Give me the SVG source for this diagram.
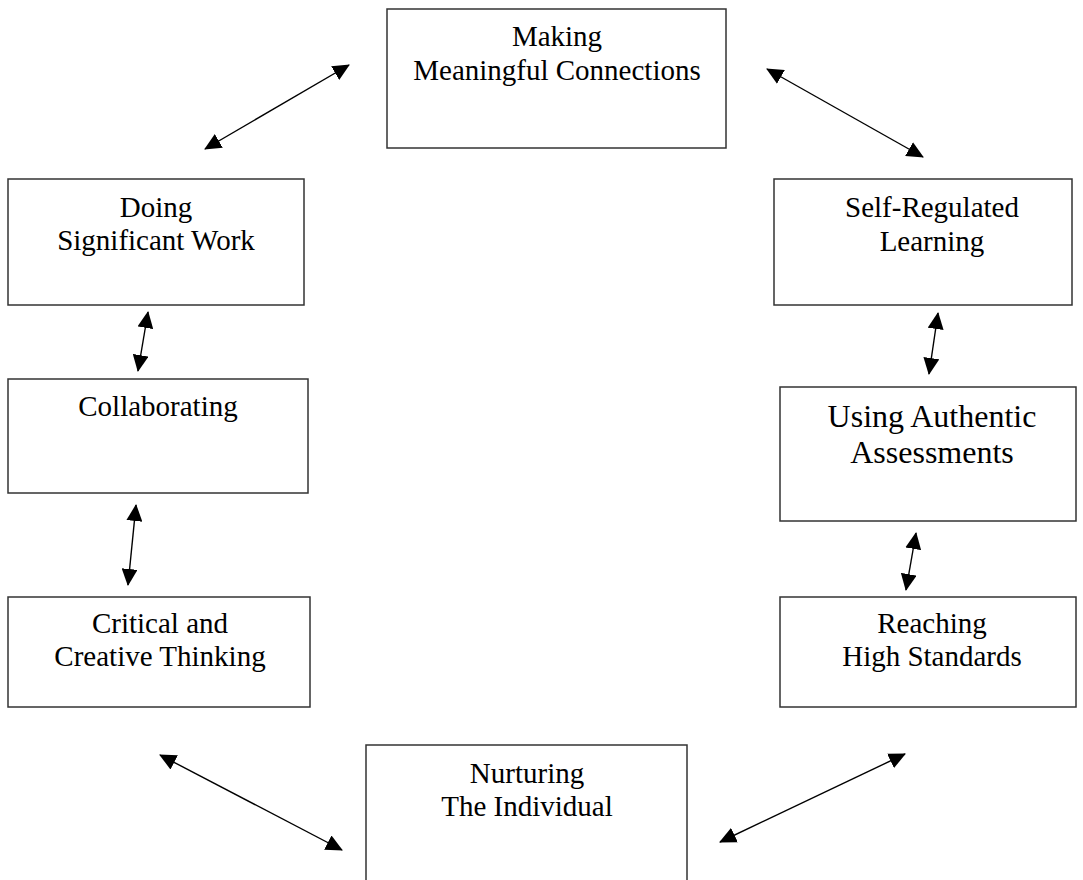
<svg xmlns="http://www.w3.org/2000/svg" width="1083" height="880" viewBox="0 0 1083 880">
<style>
.box{fill:#fff;stroke:#333;stroke-width:1.5}
.t{font-family:"Liberation Serif","Times New Roman","DejaVu Serif",serif;font-size:29px;fill:#000;text-anchor:middle}
.tb{font-size:32px}
.c{stroke:#000;stroke-width:1.4;fill:none;marker-start:url(#ah);marker-end:url(#ah)}
</style>
<defs>
<marker id="ah" viewBox="0 0 17 16" refX="16" refY="8" markerUnits="userSpaceOnUse" markerWidth="17" markerHeight="16" orient="auto-start-reverse">
<path d="M0,0 L17,8 L0,16 z" fill="#000"/>
</marker>
</defs>
<rect width="1083" height="880" fill="#fff"/>
<g id="n-making"><rect class="box" x="387" y="9" width="339" height="139"/><text class="t" x="557" y="46">Making</text><text class="t" x="557" y="80">Meaningful Connections</text></g>
<g id="n-doing"><rect class="box" x="8" y="179" width="296" height="126"/><text class="t" x="156" y="217">Doing</text><text class="t" x="156" y="250">Significant Work</text></g>
<g id="n-self"><rect class="box" x="774" y="179" width="298" height="126"/><text class="t" x="932" y="217">Self-Regulated</text><text class="t" x="932" y="251">Learning</text></g>
<g id="n-collab"><rect class="box" x="8" y="379" width="300" height="114"/><text class="t" x="158" y="416">Collaborating</text></g>
<g id="n-using"><rect class="box" x="780" y="387" width="296" height="134"/><text class="t tb" x="932" y="427">Using Authentic</text><text class="t tb" x="932" y="463">Assessments</text></g>
<g id="n-critical"><rect class="box" x="8" y="597" width="302" height="110"/><text class="t" x="160" y="633">Critical and</text><text class="t" x="160" y="666">Creative Thinking</text></g>
<g id="n-reaching"><rect class="box" x="780" y="597" width="296" height="110"/><text class="t" x="932" y="633">Reaching</text><text class="t" x="932" y="666">High Standards</text></g>
<g id="n-nurturing"><rect class="box" x="366" y="745" width="321" height="145"/><text class="t" x="527" y="783">Nurturing</text><text class="t" x="527" y="816">The Individual</text></g>
<g id="connectors">
<line class="c" x1="205" y1="149" x2="349" y2="65"/>
<line class="c" x1="767" y1="69" x2="923" y2="157"/>
<line class="c" x1="148" y1="312" x2="138" y2="371"/>
<line class="c" x1="136" y1="505" x2="128" y2="585"/>
<line class="c" x1="938" y1="313" x2="929" y2="374"/>
<line class="c" x1="916" y1="533" x2="906" y2="590"/>
<line class="c" x1="160" y1="755" x2="342" y2="850"/>
<line class="c" x1="905" y1="754" x2="720" y2="842"/>
</g>
</svg>
